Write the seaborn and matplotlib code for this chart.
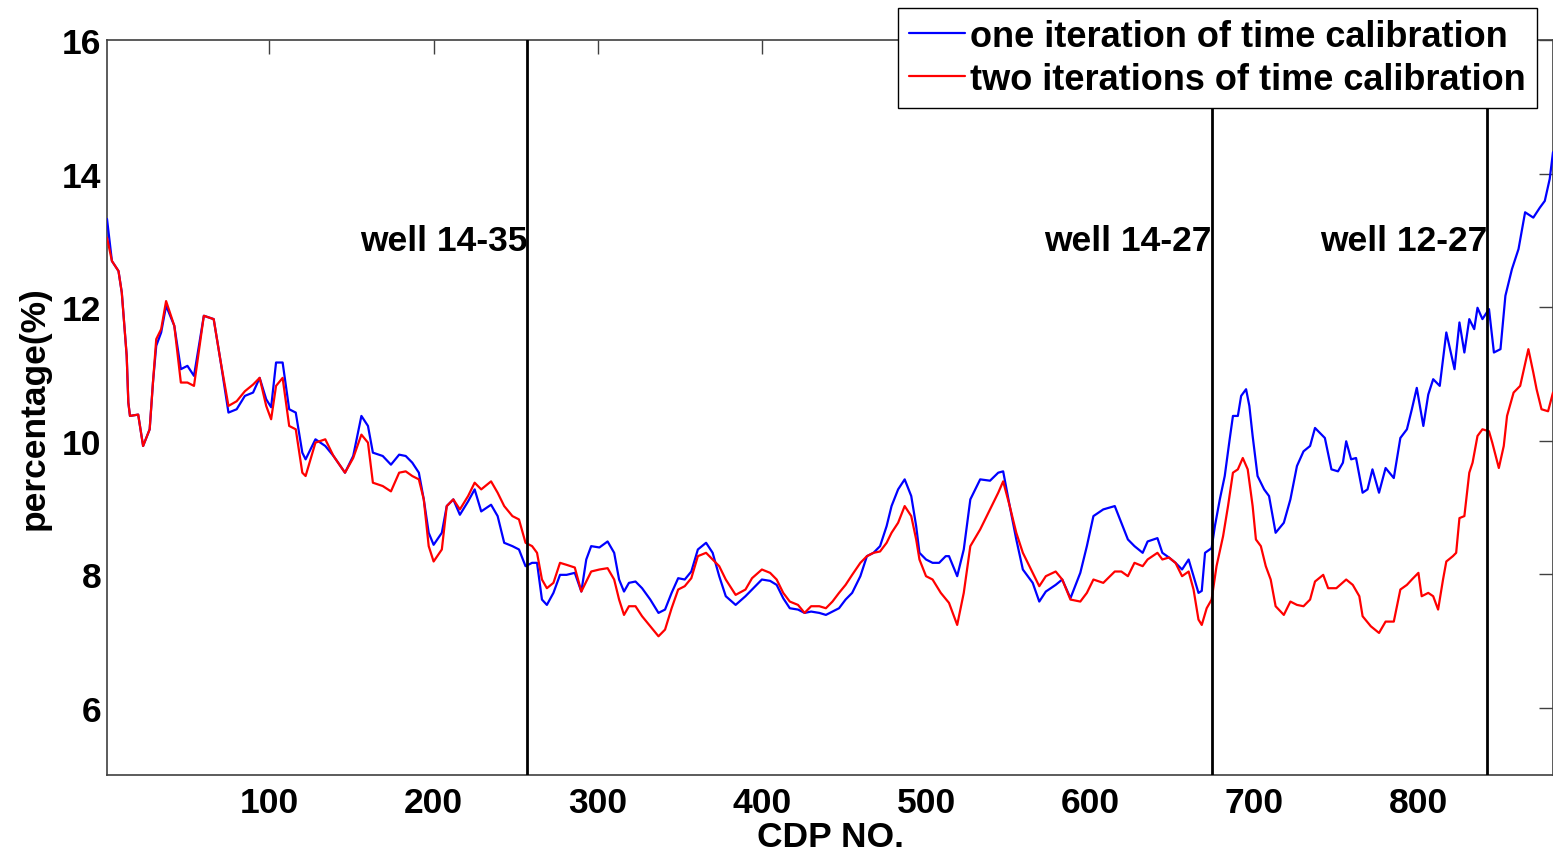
import numpy as np
import pandas as pd
import matplotlib
matplotlib.use("Agg")
import matplotlib.pyplot as plt
import seaborn as sns

# CDP positions and percentages for one calibration pass
cdp_one = [1, 4, 8, 10, 13, 14, 15, 20, 23, 27, 29, 31, 34, 37, 42, 46, 50, 54, 60, 66, 70, 75,
           80, 85, 90, 94, 98, 101, 104, 108, 112, 116, 120, 122, 128, 134, 139, 146, 151, 156,
           160, 163, 169, 174, 179, 183, 187, 191, 194, 197, 200, 205, 208, 212, 216, 221, 225,
           229, 235, 239, 243, 248, 252, 256, 260, 263, 266, 269, 273, 277, 281, 286, 290, 293,
           296, 301, 306, 310, 313, 316, 319, 323, 327, 332, 337, 341, 345, 349, 353, 357, 361,
           366, 370, 374, 378, 384, 390, 394, 400, 405, 409, 413, 417, 422, 426, 430, 435, 439,
           443, 447, 451, 455, 460, 464, 468, 472, 476, 479, 483, 487, 491, 494, 496, 500, 504,
           508, 512, 514, 519, 523, 527, 533, 539, 544, 547, 551, 555, 559, 565, 569, 573, 579,
           583, 588, 594, 598, 602, 608, 615, 619, 623, 627, 632, 635, 641, 644, 648, 652, 656,
           660, 663, 666, 668, 670, 674, 676, 679, 682, 685, 687, 690, 692, 695, 697, 699, 702,
           706, 709, 713, 718, 722, 726, 730, 734, 737, 743, 747, 751, 754, 756, 759, 762, 766,
           769, 772, 776, 780, 785, 789, 793, 796, 799, 803, 806, 809, 813, 817, 822, 825, 828,
           831, 834, 836, 839, 843, 846, 850, 853, 857, 861, 865, 870, 874, 877, 880, 882]
pct_one = [13.32, 12.69, 12.54, 12.22, 11.27, 10.57, 10.37, 10.39, 9.92, 10.17, 10.87, 11.42,
           11.62, 12.02, 11.72, 11.07, 11.12, 10.97, 11.87, 11.82, 11.22, 10.42, 10.47, 10.67,
           10.72, 10.94, 10.62, 10.50, 11.17, 11.17, 10.47, 10.42, 9.82, 9.72, 10.02, 9.92, 9.77,
           9.52, 9.77, 10.37, 10.22, 9.82, 9.77, 9.64, 9.79, 9.77, 9.67, 9.52, 9.12, 8.62, 8.44,
           8.62, 9.02, 9.12, 8.89, 9.09, 9.27, 8.94, 9.04, 8.87, 8.47, 8.42, 8.37, 8.12, 8.17,
           8.17, 7.62, 7.54, 7.72, 7.99, 7.99, 8.02, 7.74, 8.22, 8.42, 8.40, 8.49, 8.32, 7.92,
           7.74, 7.87, 7.89, 7.79, 7.62, 7.42, 7.47, 7.72, 7.94, 7.92, 8.04, 8.37, 8.47, 8.32,
           7.97, 7.67, 7.54, 7.67, 7.77, 7.92, 7.90, 7.84, 7.64, 7.49, 7.47, 7.42, 7.44, 7.42,
           7.39, 7.44, 7.49, 7.62, 7.72, 7.97, 8.27, 8.32, 8.42, 8.72, 9.02, 9.27, 9.42, 9.17,
           8.72, 8.32, 8.22, 8.17, 8.17, 8.27, 8.27, 7.97, 8.37, 9.12, 9.42, 9.40, 9.52, 9.54,
           9.02, 8.52, 8.07, 7.87, 7.59, 7.74, 7.84, 7.92, 7.64, 8.02, 8.42, 8.87, 8.97, 9.02,
           8.77, 8.52, 8.42, 8.32, 8.49, 8.54, 8.32, 8.25, 8.17, 8.07, 8.22, 7.97, 7.72, 7.75,
           8.32, 8.39, 8.72, 9.12, 9.47, 10.02, 10.37, 10.37, 10.67, 10.77, 10.52, 10.07, 9.47,
           9.27, 9.17, 8.62, 8.77, 9.12, 9.62, 9.84, 9.92, 10.19, 10.04, 9.57, 9.54, 9.67, 9.99,
           9.72, 9.74, 9.22, 9.27, 9.57, 9.22, 9.59, 9.44, 10.04, 10.17, 10.47, 10.79, 10.22,
           10.69, 10.92, 10.82, 11.62, 11.07, 11.77, 11.32, 11.82, 11.67, 11.99, 11.82, 11.97,
           11.32, 11.37, 12.17, 12.57, 12.87, 13.42, 13.34, 13.49, 13.59, 13.92, 14.32]

# CDP positions and percentages for two calibration passes
cdp_two = [1, 4, 8, 10, 13, 14, 15, 20, 23, 27, 29, 31, 34, 37, 42, 46, 50, 54, 60, 66, 70, 75,
           80, 85, 90, 94, 98, 101, 104, 108, 112, 116, 120, 122, 128, 134, 139, 146, 151, 156,
           160, 163, 169, 174, 179, 183, 187, 191, 194, 197, 200, 205, 208, 212, 216, 221, 225,
           229, 235, 239, 243, 248, 252, 256, 260, 263, 266, 269, 273, 277, 281, 286, 290, 293,
           296, 301, 306, 310, 313, 316, 319, 323, 327, 332, 337, 341, 345, 349, 353, 357, 361,
           366, 370, 374, 378, 384, 390, 394, 400, 405, 409, 413, 417, 422, 426, 430, 435, 439,
           443, 447, 451, 455, 460, 464, 468, 472, 476, 479, 483, 487, 491, 494, 496, 500, 504,
           509, 514, 519, 523, 527, 533, 539, 544, 547, 551, 555, 559, 565, 569, 573, 579, 583,
           588, 594, 598, 602, 608, 615, 619, 623, 627, 632, 635, 641, 644, 648, 652, 656, 660,
           663, 666, 668, 671, 674, 677, 681, 684, 687, 690, 693, 696, 699, 701, 704, 707, 710,
           713, 718, 722, 726, 730, 734, 737, 742, 745, 750, 756, 760, 764, 766, 771, 776, 780,
           785, 789, 793, 796, 800, 802, 806, 809, 812, 815, 817, 821, 823, 825, 828, 831, 833,
           836, 839, 843, 845, 849, 852, 854, 858, 862, 867, 870, 872, 875, 879, 882]
pct_two = [13.04, 12.69, 12.54, 12.22, 11.27, 10.57, 10.37, 10.39, 9.92, 10.17, 10.87, 11.52,
           11.67, 12.09, 11.72, 10.87, 10.87, 10.82, 11.87, 11.82, 11.22, 10.52, 10.59, 10.74,
           10.84, 10.94, 10.52, 10.32, 10.82, 10.94, 10.22, 10.17, 9.52, 9.47, 9.97, 10.02, 9.77,
           9.52, 9.74, 10.09, 9.97, 9.37, 9.32, 9.24, 9.52, 9.54, 9.47, 9.42, 9.12, 8.42, 8.19,
           8.37, 9.02, 9.12, 8.97, 9.17, 9.37, 9.27, 9.39, 9.22, 9.02, 8.87, 8.82, 8.47, 8.42,
           8.32, 7.92, 7.79, 7.87, 8.17, 8.14, 8.10, 7.74, 7.89, 8.04, 8.07, 8.09, 7.92, 7.62,
           7.39, 7.52, 7.52, 7.37, 7.22, 7.07, 7.17, 7.49, 7.77, 7.82, 7.94, 8.27, 8.32, 8.22,
           8.12, 7.92, 7.69, 7.77, 7.94, 8.07, 8.02, 7.92, 7.72, 7.59, 7.54, 7.42, 7.52, 7.52,
           7.49, 7.59, 7.72, 7.84, 7.99, 8.17, 8.27, 8.32, 8.34, 8.47, 8.62, 8.77, 9.02, 8.87,
           8.52, 8.22, 7.97, 7.92, 7.72, 7.57, 7.24, 7.72, 8.42, 8.67, 8.97, 9.22, 9.39, 9.02,
           8.62, 8.32, 8.02, 7.82, 7.97, 8.04, 7.92, 7.62, 7.59, 7.72, 7.92, 7.87, 8.04, 8.04,
           7.97, 8.17, 8.12, 8.22, 8.32, 8.22, 8.25, 8.17, 7.97, 8.04, 7.77, 7.32, 7.24, 7.49,
           7.62, 8.12, 8.57, 9.02, 9.52, 9.57, 9.74, 9.57, 9.02, 8.52, 8.42, 8.12, 7.92, 7.52,
           7.39, 7.59, 7.54, 7.52, 7.62, 7.89, 7.99, 7.79, 7.79, 7.92, 7.84, 7.67, 7.37, 7.22,
           7.12, 7.29, 7.29, 7.77, 7.84, 7.92, 8.02, 7.67, 7.72, 7.67, 7.47, 7.92, 8.19, 8.27,
           8.32, 8.84, 8.87, 9.52, 9.67, 10.07, 10.17, 10.14, 9.97, 9.59, 9.92, 10.37, 10.72,
           10.82, 11.37, 11.02, 10.77, 10.47, 10.44, 10.72]

series_names = ["one iteration of time calibration", "two iterations of time calibration"]
well_cdp = [257, 674, 842]
well_names = ["well 14-35", "well 14-27", "well 12-27"]
x_ticks = [100, 200, 300, 400, 500, 600, 700, 800]
y_ticks = [6, 8, 10, 12, 14, 16]

df = pd.concat([
    pd.DataFrame({"CDP": cdp_one, "pct": pct_one, "run": series_names[0]}),
    pd.DataFrame({"CDP": cdp_two, "pct": pct_two, "run": series_names[1]}),
], ignore_index=True)

sns.set_style("white")
plt.rcParams["font.family"] = ["Liberation Sans", "DejaVu Sans"]
plt.rcParams["font.weight"] = "bold"
plt.rcParams["text.color"] = "black"
plt.rcParams["axes.labelcolor"] = "black"

W, H = 1553, 854
fig = plt.figure(figsize=(W / 100, H / 100), dpi=100)
ax = fig.add_axes([107 / W, 1 - 775.5 / H, (W - 107) / W, (775.5 - 41) / H])

sns.lineplot(data=df, x="CDP", y="pct", hue="run", hue_order=series_names,
             palette=["#0000ff", "#ff0000"], linewidth=1.6, ax=ax, estimator=None,
             sort=False, zorder=3)

for xc, name in zip(well_cdp, well_names):
    ax.axvline(xc, color="black", linewidth=2.0, zorder=4)
    ax.text(xc, 13.0, name, ha="right", va="center", fontsize=25.5,
            fontweight="bold", color="black", zorder=5)

ax.set_xlim(1, 882)
ax.set_ylim(5, 16)
ax.set_xticks(x_ticks)
ax.set_yticks(y_ticks)
ax.tick_params(direction="in", length=10, width=1.0, color="#404040",
               labelcolor="black", labelsize=25.5, top=True, right=True)
ax.tick_params(axis="x", pad=8)
ax.tick_params(axis="y", pad=4)
for lbl in ax.get_xticklabels() + ax.get_yticklabels():
    lbl.set_fontweight("bold")
for s in ax.spines.values():
    s.set_color("#404040")
    s.set_linewidth(1.2)

ax.set_xlabel("CDP NO.", fontsize=25.5, fontweight="bold", labelpad=1)
ax.set_ylabel("percentage(%)", fontsize=25.5, fontweight="bold", labelpad=8)

leg = ax.legend(loc="upper right", bbox_to_anchor=(1537 / W, 1 - 9 / H),
                bbox_transform=fig.transFigure, frameon=True, fancybox=False,
                framealpha=1, edgecolor="black", fontsize=26,
                handlelength=1.55, handletextpad=0.15, labelspacing=0.22,
                borderpad=0.3, borderaxespad=0)
leg.get_frame().set_linewidth(1.0)
leg.set_zorder(10)
for t in leg.get_texts():
    t.set_fontweight("bold")
    t.set_color("black")

fig.savefig("out.png", dpi=100)
